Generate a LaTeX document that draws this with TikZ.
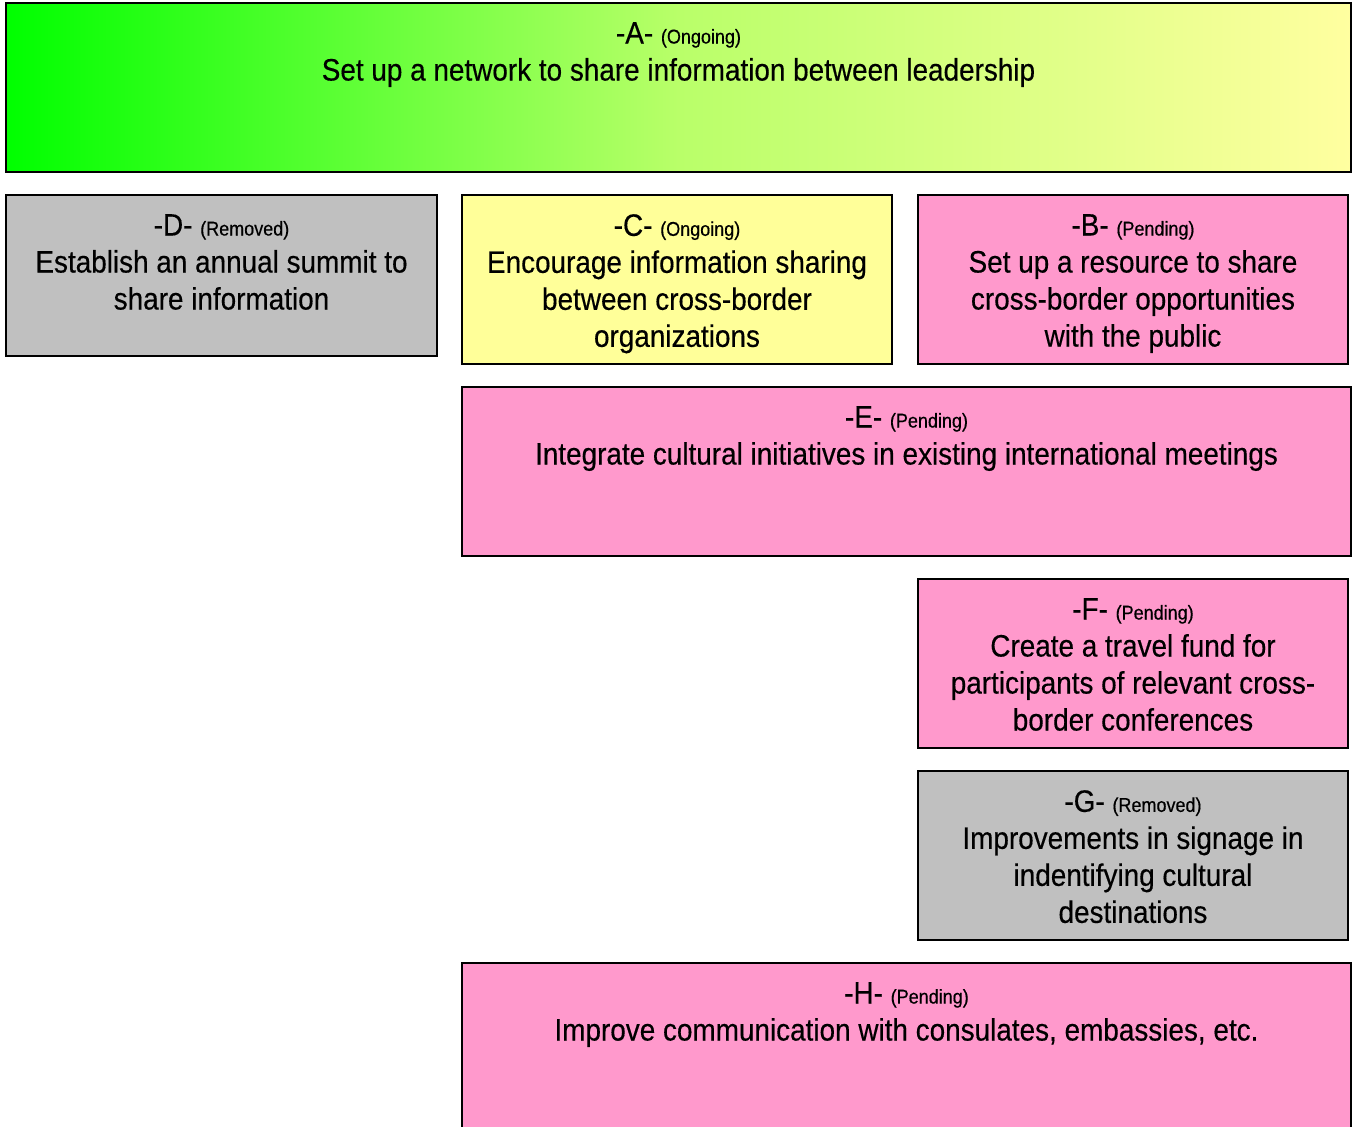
\documentclass[tikz,border=0pt]{standalone}
\usepackage{fontspec}
\setmainfont[FakeStretch=0.9,FakeBold=0.4]{Liberation Sans}
\definecolor{pinkbox}{RGB}{255,153,204}
\definecolor{yellowbox}{RGB}{255,255,153}
\definecolor{graybox}{RGB}{192,192,192}
\definecolor{gradleft}{RGB}{0,255,0}
\definecolor{gradmid}{RGB}{185,255,105}
\definecolor{gradright}{RGB}{255,255,160}
\begin{document}
\begin{tikzpicture}[x=1pt,y=-1pt,
  box/.style={draw=black,line width=1.6pt,anchor=north west,inner sep=0pt,outer sep=0pt},
  txt/.style={anchor=north,inner sep=0pt,align=center,font=\fontsize{31}{37}\selectfont}]
\newcommand{\stat}[1]{{\fontsize{20}{20}\selectfont #1}}
\clip (0,0) rectangle (1352,1127);
\fill[white] (0,0) rectangle (1352,1127);
% A
\node[box,left color=gradleft,right color=gradright,middle color=gradmid,minimum width=1345pt,minimum height=169pt] (A) at (6,3) {};
\node[txt] (At) at ([yshift=-19pt]A.north) {-A- \stat{(Ongoing)}\\Set up a network to share information between leadership};
% D
\node[box,fill=graybox,minimum width=431pt,minimum height=161pt] (D) at (6,195) {};
\node[txt] (Dt) at ([yshift=-19pt]D.north) {-D- \stat{(Removed)}\\Establish an annual summit to\\share information};
% C
\node[box,fill=yellowbox,minimum width=430pt,minimum height=169pt] (C) at (462,195) {};
\node[txt] (Ct) at ([yshift=-19pt]C.north) {-C- \stat{(Ongoing)}\\Encourage information sharing\\between cross-border\\organizations};
% B
\node[box,fill=pinkbox,minimum width=430pt,minimum height=169pt] (B) at (918,195) {};
\node[txt] (Bt) at ([yshift=-19pt]B.north) {-B- \stat{(Pending)}\\Set up a resource to share\\cross-border opportunities\\with the public};
% E
\node[box,fill=pinkbox,minimum width=889pt,minimum height=169pt] (E) at (462,387) {};
\node[txt] (Et) at ([yshift=-19pt]E.north) {-E- \stat{(Pending)}\\Integrate cultural initiatives in existing international meetings};
% F
\node[box,fill=pinkbox,minimum width=430pt,minimum height=169pt] (F) at (918,579) {};
\node[txt] (Ft) at ([yshift=-19pt]F.north) {-F- \stat{(Pending)}\\Create a travel fund for\\participants of relevant cross-\\border conferences};
% G
\node[box,fill=graybox,minimum width=430pt,minimum height=169pt] (G) at (918,771) {};
\node[txt] (Gt) at ([yshift=-19pt]G.north) {-G- \stat{(Removed)}\\Improvements in signage in\\indentifying cultural\\destinations};
% H
\node[box,fill=pinkbox,minimum width=889pt,minimum height=190pt] (H) at (462,963) {};
\node[txt] (Ht) at ([yshift=-19pt]H.north) {-H- \stat{(Pending)}\\Improve communication with consulates, embassies, etc.};
\end{tikzpicture}
\end{document}
